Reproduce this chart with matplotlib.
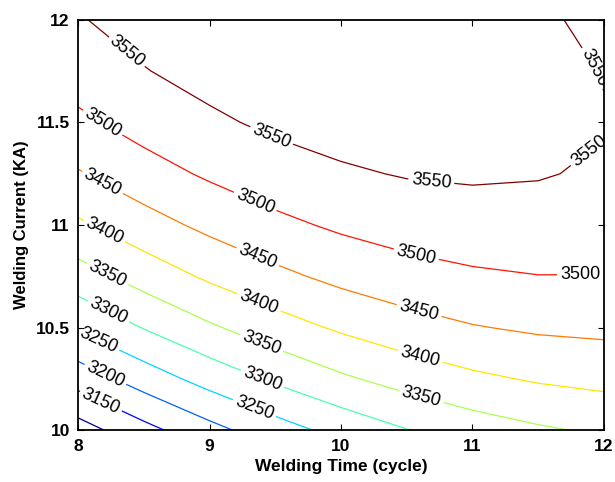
import numpy as np
import matplotlib
matplotlib.use("Agg")
import matplotlib.pyplot as plt

plt.rcParams["font.family"] = ["Liberation Sans", "DejaVu Sans"]

# welding time (cycle) and welding current (kA) grid
welding_time = [8.0, 8.5, 9.0, 9.5, 10.0, 10.5, 11.0, 11.5, 12.0]
welding_current = [10.0, 10.25, 10.5, 10.75, 11.0, 11.25, 11.5, 11.75, 12.0]

# response values (rows = current, cols = time)
strength = [
    [3077, 3134, 3184, 3228, 3266, 3298, 3324, 3343, 3357],
    [3171, 3223, 3269, 3308, 3342, 3369, 3390, 3405, 3414],
    [3255, 3302, 3343, 3378, 3407, 3430, 3447, 3457, 3461],
    [3328, 3371, 3408, 3438, 3463, 3481, 3493, 3499, 3499],
    [3392, 3430, 3462, 3488, 3508, 3522, 3529, 3531, 3526],
    [3446, 3480, 3507, 3529, 3544, 3553, 3556, 3553, 3544],
    [3490, 3519, 3542, 3559, 3569, 3574, 3572, 3565, 3553],
    [3523, 3548, 3566, 3579, 3585, 3585, 3579, 3567, 3548],
    [3547, 3567, 3581, 3589, 3591, 3586, 3575, 3559, 3536],
]
levels = [3100, 3150, 3200, 3250, 3300, 3350, 3400, 3450, 3500, 3550]

# where the inline labels sit
label_pos = [
    (8.34, 11.82), (9.44, 11.39), (10.68, 11.17), (11.91, 11.76), (11.91, 11.34),
    (8.17, 11.48), (9.33, 11.09), (10.56, 10.82), (11.82, 10.73),
    (8.18, 11.20), (9.35, 10.82), (10.58, 10.55),
    (8.17, 10.93), (9.36, 10.60), (10.59, 10.33),
    (8.19, 10.72), (9.38, 10.40), (10.60, 10.14),
    (8.20, 10.54), (9.39, 10.23),
    (8.14, 10.42), (9.33, 10.09),
    (8.19, 10.25),
    (8.15, 10.11),
]

fig = plt.figure(figsize=(6.15, 4.82), dpi=100, facecolor="white")
ax = fig.add_axes([0.127, 0.107, 0.855, 0.852])

T, C = np.meshgrid(welding_time, welding_current)
cs = ax.contour(T, C, np.array(strength), levels=levels, cmap="jet",
                linewidths=0.9)
ax.clabel(cs, fmt="%d", manual=label_pos, inline=True, inline_spacing=3,
          fontsize=13, colors="black")

ax.set_xlim(8, 12)
ax.set_ylim(10, 12)
ax.set_xticks([8, 9, 10, 11, 12])
ax.set_yticks([10, 10.5, 11, 11.5, 12])
ax.set_yticklabels(["10", "10.5", "11", "11.5", "12"])
ax.tick_params(direction="in", top=True, right=True, length=4, width=0.8,
               labelsize=12.5, pad=6)
for lbl in ax.get_xticklabels() + ax.get_yticklabels():
    lbl.set_fontweight("bold")
for s in ax.spines.values():
    s.set_linewidth(1.3)
    s.set_color("black")

ax.set_xlabel("Welding Time (cycle)", fontsize=12.5, fontweight="bold", labelpad=4)
ax.set_ylabel("Welding Current (KA)", fontsize=12, fontweight="bold", labelpad=5)

fig.savefig("out.png", dpi=100)
